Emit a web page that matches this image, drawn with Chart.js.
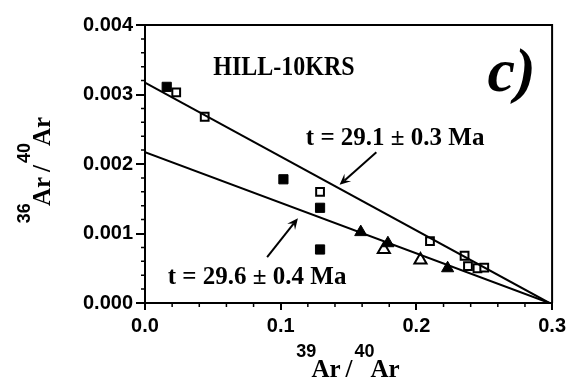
<!DOCTYPE html>
<html>
<head>
<meta charset="utf-8">
<script src="https://cdn.jsdelivr.net/npm/chart.js@4.4.0/dist/chart.umd.min.js"></script>
<style>
html, body { margin: 0; padding: 0; background: #fff; }
#wrap { width: 570px; height: 384px; }
</style>
</head>
<body>
<div id="wrap"><canvas id="isochron"></canvas></div>
<script>
var filledSquares = [
    {x: 0.016, y: 0.00311}, {x: 0.102, y: 0.00178},
    {x: 0.129, y: 0.00137}, {x: 0.129, y: 0.00077}
];
var openSquares = [
    {x: 0.023, y: 0.00303}, {x: 0.044, y: 0.00268}, {x: 0.129, y: 0.00160},
    {x: 0.210, y: 0.00089}, {x: 0.2355, y: 0.00068}, {x: 0.238, y: 0.00053},
    {x: 0.245, y: 0.00050}, {x: 0.250, y: 0.00051}
];
var filledTriangles = [{x: 0.159, y: 0.00102}, {x: 0.179, y: 0.00086}, {x: 0.223, y: 0.00050}];
var openTriangles = [{x: 0.176, y: 0.00077}, {x: 0.203, y: 0.00062}];

// isochron fits
var upperFit = [{x: 0, y: 0.00317}, {x: 0.298, y: 0}];
var lowerFit = [{x: 0, y: 0.00217}, {x: 0.298, y: 0}];

var xTicks = [0.0, 0.1, 0.2, 0.3];
var yTicks = [0.000, 0.001, 0.002, 0.003, 0.004];

// annotation text and arrows, in data units
var labels = [
    {text: 'HILL-10KRS', x: 0.1024, y: 0.00338, size: 24, align: 'center', italic: false, stretch: 1.1},
    {text: 'c)', x: 0.2524, y: 0.00305, size: 62, align: 'left', italic: true, stretch: 1},
    {text: 't = 29.1 \u00b1 0.3 Ma', x: 0.1185, y: 0.00237, size: 25, align: 'left', italic: false, stretch: 1.05},
    {text: 't = 29.6 \u00b1 0.4 Ma', x: 0.0168, y: 0.00037, size: 25, align: 'left', italic: false, stretch: 1.05}
];
var arrows = [
    {from: {x: 0.1705, y: 0.00217}, to: {x: 0.1434, y: 0.00170}},
    {from: {x: 0.0900, y: 0.00066}, to: {x: 0.1127, y: 0.00122}}
];

var serif = '"Liberation Serif", "Times New Roman", serif';
var sans = '"Liberation Sans", Arial, sans-serif';

function drawTitle(ctx, parts, cx, cy, angle) {
    ctx.save();
    ctx.translate(cx, cy);
    ctx.rotate(angle);
    var total = 0;
    parts.forEach(function (p) {
        ctx.font = p.sup ? 'bold 18px ' + sans : 'bold 25px ' + serif;
        p.w = ctx.measureText(p.text).width;
        total += p.w + (p.gap || 0);
    });
    var x = -total / 2;
    ctx.textBaseline = 'alphabetic';
    ctx.textAlign = 'left';
    parts.forEach(function (p) {
        ctx.font = p.sup ? 'bold 18px ' + sans : 'bold 25px ' + serif;
        ctx.fillText(p.text, x, p.sup ? -20 : 0);
        x += p.w + (p.gap || 0);
    });
    ctx.restore();
}

var isoPlugin = {
    id: 'isoPlugin',
    afterDraw: function (chart) {
        var ctx = chart.ctx;
        var a = chart.chartArea;
        var xs = chart.scales.x, ys = chart.scales.y;
        ctx.save();
        ctx.strokeStyle = '#000';
        ctx.fillStyle = '#000';

        // top and right frame
        ctx.lineWidth = 2;
        ctx.beginPath();
        ctx.moveTo(a.left, a.top);
        ctx.lineTo(a.right, a.top);
        ctx.lineTo(a.right, a.bottom);
        ctx.stroke();

        // minor ticks
        ctx.lineWidth = 1.5;
        ctx.beginPath();
        for (var i = 1; i < 15; i++) {
            if (i % 5 === 0) continue;
            var px = xs.getPixelForValue(i * 0.02);
            ctx.moveTo(px, a.bottom);
            ctx.lineTo(px, a.bottom + 4);
        }
        for (var j = 1; j < 20; j++) {
            if (j % 5 === 0) continue;
            var py = ys.getPixelForValue(j * 0.0002);
            ctx.moveTo(a.left + 1, py);
            ctx.lineTo(a.left - 4, py);
        }
        ctx.stroke();

        // arrows
        ctx.lineWidth = 2;
        arrows.forEach(function (ar) {
            var x1 = xs.getPixelForValue(ar.from.x), y1 = ys.getPixelForValue(ar.from.y);
            var x2 = xs.getPixelForValue(ar.to.x), y2 = ys.getPixelForValue(ar.to.y);
            var ang = Math.atan2(y2 - y1, x2 - x1);
            var hl = 11, hw = 5;
            ctx.beginPath();
            ctx.moveTo(x1, y1);
            ctx.lineTo(x2 - Math.cos(ang) * hl * 0.6, y2 - Math.sin(ang) * hl * 0.6);
            ctx.stroke();
            ctx.beginPath();
            ctx.moveTo(x2, y2);
            ctx.lineTo(x2 - Math.cos(ang) * hl - Math.sin(ang) * hw, y2 - Math.sin(ang) * hl + Math.cos(ang) * hw);
            ctx.lineTo(x2 - Math.cos(ang) * hl * 0.6, y2 - Math.sin(ang) * hl * 0.6);
            ctx.lineTo(x2 - Math.cos(ang) * hl + Math.sin(ang) * hw, y2 - Math.sin(ang) * hl - Math.cos(ang) * hw);
            ctx.closePath();
            ctx.fill();
        });

        // text labels
        labels.forEach(function (l) {
            ctx.save();
            ctx.translate(xs.getPixelForValue(l.x), ys.getPixelForValue(l.y));
            ctx.scale(1, l.stretch);
            ctx.font = (l.italic ? 'italic ' : '') + 'bold ' + l.size + 'px ' + serif;
            ctx.textAlign = l.align;
            ctx.textBaseline = l.italic ? 'alphabetic' : 'middle';
            ctx.fillText(l.text, 0, 0);
            ctx.restore();
        });

        // axis titles with superscript mass numbers
        drawTitle(ctx, [
            {text: '39', sup: true, gap: -5}, {text: 'Ar', gap: 5}, {text: '/', gap: 2},
            {text: '40', sup: true, gap: -4}, {text: 'Ar'}
        ], 348, 377, 0);
        drawTitle(ctx, [
            {text: '36', sup: true, gap: -3}, {text: 'Ar', gap: 5}, {text: '/', gap: 2},
            {text: '40', sup: true, gap: -3}, {text: 'Ar'}
        ], 50, 170, -Math.PI / 2);
        ctx.restore();
    }
};

var tickFont = {family: sans, size: 20, weight: 'bold'};

new Chart(document.getElementById('isochron'), {
    type: 'scatter',
    data: {
        datasets: [
            {data: upperFit, showLine: true, pointRadius: 0, borderColor: '#000', borderWidth: 2},
            {data: lowerFit, showLine: true, pointRadius: 0, borderColor: '#000', borderWidth: 2},
            {data: filledSquares, pointStyle: 'rect', pointRadius: 6.5, backgroundColor: '#000', borderColor: '#000', borderWidth: 1},
            {data: openSquares, pointStyle: 'rect', pointRadius: 5.5, backgroundColor: '#fff', borderColor: '#000', borderWidth: 2},
            {data: filledTriangles, pointStyle: 'triangle', pointRadius: 7, backgroundColor: '#000', borderColor: '#000', borderWidth: 1},
            {data: openTriangles, pointStyle: 'triangle', pointRadius: 7, backgroundColor: '#fff', borderColor: '#000', borderWidth: 2}
        ]
    },
    options: {
        responsive: true,
        maintainAspectRatio: false,
        animation: false,
        layout: {padding: {top: 25, right: 15, left: 0, bottom: 0}},
        plugins: {legend: {display: false}, tooltip: {enabled: false}},
        scales: {
            x: {
                type: 'linear', min: 0, max: 0.3,
                afterBuildTicks: function (s) { s.ticks = xTicks.map(function (v) { return {value: v}; }); },
                afterFit: function (s) { s.height = 81; },
                ticks: {callback: function (v) { return v.toFixed(1); }, font: tickFont, color: '#000', padding: 4, maxRotation: 0},
                grid: {drawOnChartArea: false, tickLength: 7, color: '#000', lineWidth: 2},
                border: {color: '#000', width: 2}
            },
            y: {
                type: 'linear', min: 0, max: 0.004,
                afterBuildTicks: function (s) { s.ticks = yTicks.map(function (v) { return {value: v}; }); },
                afterFit: function (s) { s.width = 145; },
                ticks: {callback: function (v) { return v.toFixed(3); }, font: tickFont, color: '#000', padding: 3},
                grid: {drawOnChartArea: false, tickLength: 9, color: '#000', lineWidth: 2},
                border: {color: '#000', width: 2}
            }
        }
    },
    plugins: [isoPlugin]
});
</script>
</body>
</html>
